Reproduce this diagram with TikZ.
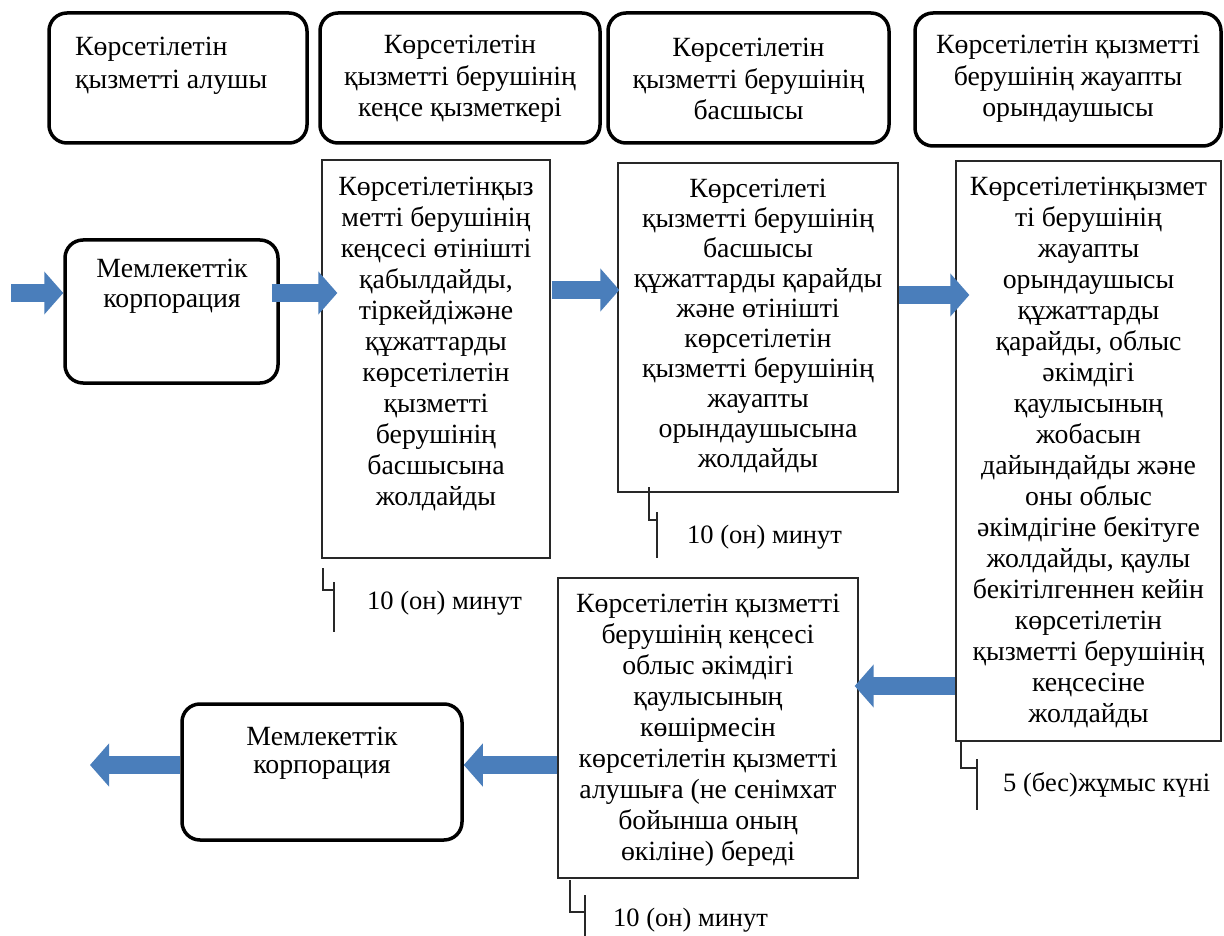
\documentclass[tikz,border=0pt]{standalone}
\usepackage{fontspec}
\setmainfont{Liberation Serif}
\usetikzlibrary{arrows.meta,calc}
\definecolor{arrblue}{RGB}{74,126,187}
\definecolor{boxline}{RGB}{40,40,40}
\begin{document}
\begin{tikzpicture}[x=1pt,y=-1pt,
  rbox/.style={draw=black, line width=3.5pt, rounded corners=18pt, inner sep=0pt},
  pbox/.style={draw=boxline, line width=1.3pt, inner sep=0pt},
  txt/.style={inner sep=0pt, align=center, font=\fontsize{27.8}{#1}\selectfont},
  txt/.default=30,
  note/.style={inner sep=0pt, font=\fontsize{26.5}{30}\selectfont},
  blk/.style={draw=arrblue, line width=18pt, -{Triangle[width=42pt,length=19pt]}},
  tick/.style={draw=boxline, line width=1.3pt}
]
\useasboundingbox (0,0) rectangle (1224,936);
\fill[white] (0,0) rectangle (1224,936);

% header boxes
\node[rbox, minimum width=258pt, minimum height=130pt] (b1) at (178,78) {};
\node[rbox, minimum width=280pt, minimum height=130pt] (b2) at (460,78) {};
\node[rbox, minimum width=281pt, minimum height=130pt] (b3) at (748.5,78) {};
\node[rbox, minimum width=306pt, minimum height=133pt] (b4) at (1068,79.5) {};
\node[txt=33, align=left, anchor=west] (b1t) at (75,66) {Көрсетілетін\\қызметті алушы};
\node[txt=31.5] (b2t) at (460,79) {Көрсетілетін\\қызметті берушінің\\кеңсе қызметкері};
\node[txt=31.5] (b3t) at (748.5,79) {Көрсетілетін\\қызметті берушінің\\басшысы};
\node[txt=31.5] (b4t) at (1068,79) {Көрсетілетін қызметті\\берушінің жауапты\\орындаушысы};

% process row
\node[rbox, minimum width=213pt, minimum height=143pt] (m1) at (171.5,311.5) {};
\node[txt=30] (m1t) at (172,286) {Мемлекеттік\\корпорация};

\node[pbox, minimum width=228pt, minimum height=398pt] (r2) at (436,359) {};
\node[txt=31] (r2t) at (436,344) {Көрсетілетінқыз\\метті берушінің\\кеңсесі өтінішті\\қабылдайды,\\тіркейдіжәне\\құжаттарды\\көрсетілетін\\қызметті\\берушінің\\басшысына\\жолдайды};

\node[pbox, minimum width=280pt, minimum height=329pt] (r3) at (758,327.5) {};
\node[txt=30] (r3t) at (758,326) {Көрсетілеті\\қызметті берушінің\\басшысы\\құжаттарды қарайды\\және өтінішті\\көрсетілетін\\қызметті берушінің\\жауапты\\орындаушысына\\жолдайды};

\node[pbox, minimum width=265pt, minimum height=580pt] (r4) at (1088.5,451) {};
\node[txt=31] (r4t) at (1088.5,452) {Көрсетілетінқызмет\\ті берушінің\\жауапты\\орындаушысы\\құжаттарды\\қарайды, облыс\\әкімдігі\\қаулысының\\жобасын\\дайындайды және\\оны облыс\\әкімдігіне бекітуге\\жолдайды, қаулы\\бекітілгеннен кейін\\көрсетілетін\\қызметті берушінің\\кеңсесіне\\жолдайды};

\node[pbox, minimum width=300pt, minimum height=300pt] (r5) at (708,728) {};
\node[txt=31] (r5t) at (708,730) {Көрсетілетін қызметті\\берушінің кеңсесі\\облыс әкімдігі\\қаулысының\\көшірмесін\\көрсетілетін қызметті\\алушыға (не сенімхат\\бойынша оның\\өкіліне) береді};

\node[rbox, minimum width=280pt, minimum height=136pt] (m2) at (322,772) {};
\node[txt=28] (m2t) at (322,753) {Мемлекеттік\\корпорация};

% time notes
\node[note, anchor=west] (n2) at (367,603) {10 (он) минут};
\node[note, anchor=west] (n3) at (687,537) {10 (он) минут};
\node[note, anchor=west] (n4) at (1003,785) {5 (бес)жұмыс күні};
\node[note, anchor=west] (n5) at (613,920) {10 (он) минут};

\draw[tick] (323,568) -- (323,590) -- (334,590);
\draw[tick] (334,582) -- (334,632);
\draw[tick] (649,487) -- (649,520) -- (657,520);
\draw[tick] (657,512) -- (657,558);
\draw[tick] (961,742) -- (961,768) -- (977,768);
\draw[tick] (977,759) -- (977,810);
\draw[tick] (570,880) -- (570,912) -- (585,912);
\draw[tick] (585,895) -- (585,936);

% arrows
\coordinate (in) at (11,293);
\coordinate (ya) at (0,293);
\coordinate (yb) at (0,290);
\coordinate (yc) at (0,295);
\coordinate (yd) at (0,686);
\coordinate (ye) at (0,765);
\coordinate (out) at (90,765);
\draw[blk] (in) -- (in -| m1.west);
\draw[blk] ($(ya -| m1.east)+(-8,0)$) -- ($(ya -| r2.west)+(16,0)$);
\draw[blk] ($(yb -| r2.east)+(1,0)$) -- ($(yb -| r3.west)+(2,0)$);
\draw[blk] (yc -| r3.east) -- ($(yc -| r4.west)+(14,0)$);
\draw[blk] (yd -| r4.west) -- ($(yd -| r5.east)+(-4,0)$);
\draw[blk] (ye -| r5.west) -- (ye -| m2.east);
\draw[blk] (ye -| m2.west) -- (out);
\end{tikzpicture}
\end{document}
